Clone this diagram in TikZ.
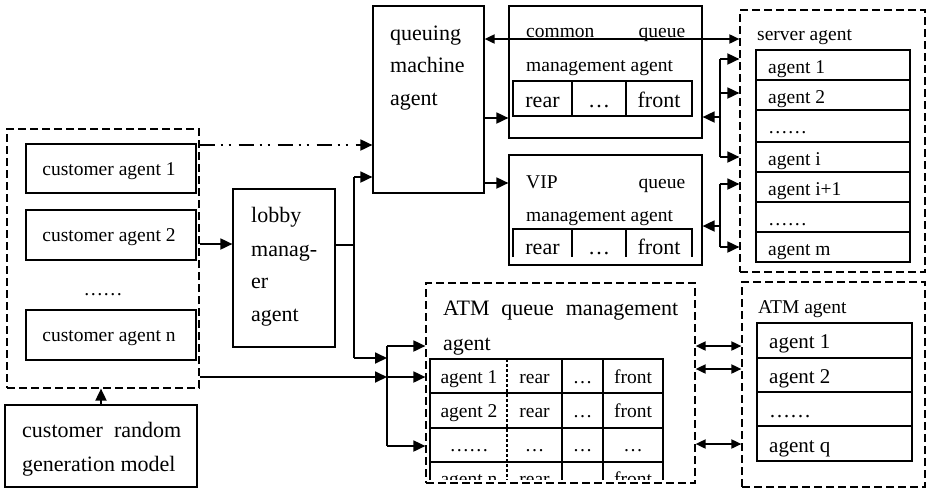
\documentclass[tikz,border=0pt]{standalone}
\usepackage{fontspec}
\setmainfont{Liberation Serif}
\usetikzlibrary{arrows.meta,fit}
\tikzset{
  box/.style={draw, line width=1.2pt, inner sep=0pt},
  dbox/.style={draw, line width=1.2pt, dash pattern=on 8pt off 4pt, inner sep=0pt},
  tbl/.style={line width=1.8pt},
  thin tbl/.style={line width=1.2pt},
  ln/.style={line width=1.8pt},
  arr/.style={ln, -{Triangle[length=12pt,width=11pt]}},
  barr/.style={ln, {Triangle[length=10pt,width=9pt]}-{Triangle[length=10pt,width=9pt]}},
  sm/.style={font=\fontsize{19.5}{22}\selectfont, inner sep=0pt},
  md/.style={font=\fontsize{21}{24}\selectfont, inner sep=0pt},
  bg/.style={font=\fontsize{22}{26}\selectfont, inner sep=0pt},
}
\begin{document}
\begin{tikzpicture}[x=1pt,y=-1pt]
\useasboundingbox (0,0) rectangle (928,488);
% ---- boxes
\node[dbox, fit={(7,129)(199,388)}] (cust) {};
\node[box, fit={(26,144)(196,193)}] (ca1) {};
\node[box, fit={(26,210)(196,260)}] (ca2) {};
\node[box, fit={(26,310)(196,360)}] (can) {};
\node[box, fit={(5,405)(197,487)}] (gen) {};
\node[box, fit={(233,189)(335,347)}] (lobby) {};
\node[box, fit={(373,6)(484,193)}] (qm) {};
\node[box, fit={(509,6)(702,138)}] (common) {};
\node[box, fit={(509,155)(702,265)}] (vip) {};
\node[dbox, fit={(740,10)(925,272)}] (srv) {};
\node[dbox, fit={(426,283)(695,483)}] (atmq) {};
\node[dbox, fit={(742,282)(925,487)}] (atma) {};
% ---- texts
\node[sm, anchor=base] (t1) at (109,175) {customer agent 1};
\node[sm, anchor=base] (t2) at (109,241) {customer agent 2};
\node[sm, anchor=base] (t3) at (103,295) {……};
\node[sm, anchor=base] (t4) at (109,341) {customer agent n};
\node[bg, anchor=base west] (g1) at (22,437) {\makebox[159pt][s]{customer\hfill random}};
\node[bg, anchor=base west] (g2) at (22,471) {generation model};
\node[bg, anchor=base west] (l1) at (251,222) {lobby};
\node[bg, anchor=base west] (l2) at (251,256) {manag-};
\node[bg, anchor=base west] (l3) at (251,288) {er};
\node[bg, anchor=base west] (l4) at (251,321) {agent};
\node[bg, anchor=base west] (q1) at (390,40) {queuing};
\node[bg, anchor=base west] (q2) at (390,72) {machine};
\node[bg, anchor=base west] (q3) at (390,105) {agent};
% common queue
\node[sm, anchor=base west] (c1) at (526,37) {\makebox[159pt][s]{common\hfill queue}};
\node[sm, anchor=base west] (c2) at (526,71) {management agent};
\draw[tbl] (513,81) rectangle (692,116);
\draw[tbl] (572,81) -- (572,116) (626,81) -- (626,116);
\node[bg, anchor=base] (c3) at (542.5,107) {rear};
\node[bg, anchor=base] (c4) at (599,107) {…};
\node[bg, anchor=base] (c5) at (659,107) {front};
% VIP queue
\node[sm, anchor=base west] (v1) at (526,188) {\makebox[159pt][s]{VIP\hfill queue}};
\node[sm, anchor=base west] (v2) at (526,221) {management agent};
\draw[tbl] (513,257) -- (513,229) -- (692,229) -- (692,257);
\draw[tbl] (572,229) -- (572,257) (626,229) -- (626,257);
\node[bg, anchor=base] (v3) at (542.5,254) {rear};
\node[bg, anchor=base] (v4) at (599,254) {…};
\node[bg, anchor=base] (v5) at (659,254) {front};
% server agent
\node[sm, anchor=base west] (s0) at (757,40) {server agent};
\draw[tbl] (756,50) rectangle (910,262);
\foreach \yy in {80,110,142,172,202,232} \draw[tbl] (756,\yy) -- (910,\yy);
\node[sm, anchor=base west] (s1) at (768,73) {agent 1};
\node[sm, anchor=base west] (s2) at (768,103) {agent 2};
\node[sm, anchor=base west] (s3) at (768,133) {……};
\node[sm, anchor=base west] (s4) at (768,165) {agent i};
\node[sm, anchor=base west] (s5) at (768,195) {agent i+1};
\node[sm, anchor=base west] (s6) at (768,225) {……};
\node[sm, anchor=base west] (s7) at (768,255) {agent m};
% ATM queue management
\node[bg, anchor=base west] (a1) at (443,315) {\makebox[235pt][s]{ATM\hfill queue\hfill management}};
\node[bg, anchor=base west] (a2) at (443,350) {agent};
\draw[tbl] (430,480) -- (430,359) -- (663,359) -- (663,480);
\foreach \yy in {393,428,462} \draw[tbl] (430,\yy) -- (663,\yy);
\draw[tbl] (562,359) -- (562,480) (603,359) -- (603,480);
\draw[line width=2.6pt, dash pattern=on 3pt off 2pt] (507,359) -- (507,480);
\node[sm, anchor=base] at (469,383) {agent 1};
\node[sm, anchor=base] at (534.5,383) {rear};
\node[sm, anchor=base] at (582.5,383) {…};
\node[sm, anchor=base] at (633,383) {front};
\node[sm, anchor=base] at (469,417) {agent 2};
\node[sm, anchor=base] at (534.5,417) {rear};
\node[sm, anchor=base] at (582.5,417) {…};
\node[sm, anchor=base] at (633,417) {front};
\node[sm, anchor=base] at (469,451) {……};
\node[sm, anchor=base] at (534.5,451) {…};
\node[sm, anchor=base] at (582.5,451) {…};
\node[sm, anchor=base] at (633,451) {…};
\begin{scope}
\clip (431,463) rectangle (662,479.5);
\node[sm, anchor=base] at (469,485) {agent n};
\node[sm, anchor=base] at (534.5,485) {rear};
\node[sm, anchor=base] at (633,485) {front};
\end{scope}
% ATM agent
\node[sm, anchor=base west] (m0) at (758,313) {ATM agent};
\draw[thin tbl] (757,323) rectangle (912,461);
\foreach \yy in {358,392,426} \draw[thin tbl] (757,\yy) -- (912,\yy);
\node[md, anchor=base west] (m1) at (769,348) {agent 1};
\node[md, anchor=base west] (m2) at (769,383) {agent 2};
\node[md, anchor=base west] (m3) at (769,417) {……};
\node[md, anchor=base west] (m4) at (769,452) {agent q};
% ---- connectors
\draw[arr] (gen.north) -- (gen.north |- cust.south);
\draw[arr] (cust.east |- 0,244) -- (lobby.west |- 0,244);
\draw[ln, dash pattern=on 15pt off 6pt on 2pt off 6pt on 2pt off 8pt, -{Triangle[length=12pt,width=11pt]}] (cust.east |- 0,145) -- (qm.west |- 0,145);
\coordinate (j1) at (354,245);
\coordinate (j1t) at (354,177);
\coordinate (j1b) at (354,358);
\draw[ln] (lobby.east |- j1) -- (j1);
\draw[ln] (j1t) -- (j1b);
\draw[arr] (j1t) -- (qm.west |- j1t);
\coordinate (j2t) at (387,346);
\coordinate (j2b) at (387,446);
\draw[ln] (j2t) -- (j2b);
\draw[arr] (j1b) -- (j1b -| j2t);
\draw[arr] (cust.east |- 0,377) -- (j2t |- 0,377);
\draw[arr] (j2t) -- (atmq.west |- j2t);
\draw[arr] (j2t |- 0,377) -- (atmq.west |- 0,377);
\draw[arr] (j2b) -- (atmq.west |- j2b);
\draw[arr] (qm.east |- 0,118) -- (common.west |- 0,118);
\draw[arr] (qm.east |- 0,183) -- (vip.west |- 0,183);
\draw[barr] (qm.east |- 0,39) -- (srv.west |- 0,39);
\coordinate (j3t) at (720,59);
\coordinate (j3b) at (720,157);
\draw[ln] (j3t) -- (j3b);
\draw[arr] (j3t |- 0,117) -- (common.east |- 0,117);
\draw[arr] (j3t) -- (srv.west |- j3t);
\draw[arr] (j3t |- 0,93) -- (srv.west |- 0,93);
\draw[arr] (j3b) -- (srv.west |- j3b);
\coordinate (j4t) at (720,184);
\coordinate (j4b) at (720,247);
\draw[ln] (j4t) -- (j4b);
\draw[arr] (j4t |- 0,226) -- (vip.east |- 0,226);
\draw[arr] (j4t) -- (srv.west |- j4t);
\draw[arr] (j4b) -- (srv.west |- j4b);
\draw[barr] (atmq.east |- 0,346) -- (atma.west |- 0,346);
\draw[barr] (atmq.east |- 0,369) -- (atma.west |- 0,369);
\draw[barr] (atmq.east |- 0,444) -- (atma.west |- 0,444);
\end{tikzpicture}
\end{document}
